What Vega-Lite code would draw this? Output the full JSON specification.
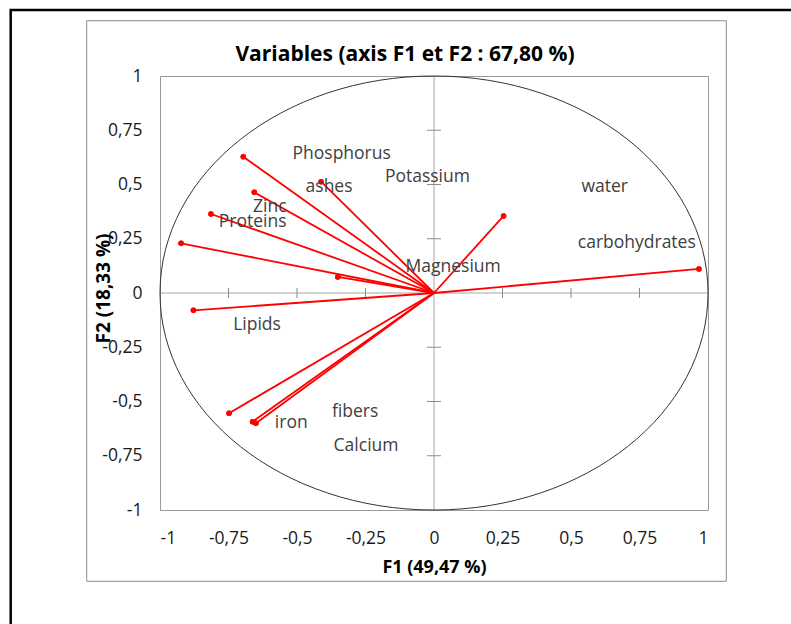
{
  "$schema": "https://vega.github.io/schema/vega-lite/v6.json",
  "usermeta": {"embedOptions": {"actions": false}},
  "width": 548,
  "height": 434,
  "autosize": {"type": "none"},
  "padding": {"left": 160, "top": 76, "right": 83, "bottom": 114},
  "background": "white",
  "title": {
    "text": "Variables (axis F1 et F2 : 67,80 %)",
    "anchor": "middle",
    "frame": "group",
    "dx": -29,
    "offset": -73,
    "baseline": "alphabetic",
    "font": "Open Sans",
    "fontSize": 21,
    "fontWeight": "bold",
    "color": "#000000"
  },
  "datasets": {
    "vars": [
      {"variable": "Phosphorus", "F1": -0.696, "F2": 0.628, "lx": -0.337, "ly": 0.641},
      {"variable": "ashes", "F1": -0.412, "F2": 0.513, "lx": -0.383, "ly": 0.487},
      {"variable": "Zinc", "F1": -0.656, "F2": 0.464, "lx": -0.599, "ly": 0.398},
      {"variable": "Proteins", "F1": -0.814, "F2": 0.364, "lx": -0.662, "ly": 0.329},
      {"variable": "Potassium", "F1": -0.923, "F2": 0.229, "lx": -0.024, "ly": 0.536},
      {"variable": "Magnesium", "F1": -0.351, "F2": 0.074, "lx": 0.07, "ly": 0.121},
      {"variable": "Lipids", "F1": -0.878, "F2": -0.08, "lx": -0.646, "ly": -0.147},
      {"variable": "fibers", "F1": -0.748, "F2": -0.554, "lx": -0.288, "ly": -0.547},
      {"variable": "iron", "F1": -0.662, "F2": -0.593, "lx": -0.521, "ly": -0.6},
      {"variable": "Calcium", "F1": -0.65, "F2": -0.6, "lx": -0.248, "ly": -0.704},
      {"variable": "water", "F1": 0.254, "F2": 0.355, "lx": 0.623, "ly": 0.487},
      {"variable": "carbohydrates", "F1": 0.967, "F2": 0.111, "lx": 0.74, "ly": 0.229}
    ],
    "ticks": [
      {"v": -0.75}, {"v": -0.5}, {"v": -0.25}, {"v": 0.25}, {"v": 0.5}, {"v": 0.75}
    ],
    "one": [{}]
  },
  "layer": [
    {
      "data": {"name": "vars"},
      "mark": {"type": "point", "filled": true, "color": "#ff0000", "size": 30, "opacity": 1},
      "encoding": {
        "x": {
          "field": "F1", "type": "quantitative",
          "scale": {"domain": [-1, 1], "nice": false, "zero": false},
          "axis": {
            "title": "F1 (49,47 %)",
            "values": [-1, -0.75, -0.5, -0.25, 0, 0.25, 0.5, 0.75, 1],
            "format": ".2~f",
            "labelExpr": "replace(replace(datum.label, '.', ','), '\u2212', '-')",
            "labelBaseline": "middle",
            "labelPadding": 28,
            "titleY": 57,
            "titleBaseline": "middle",
            "titleFontSize": 18
          }
        },
        "y": {
          "field": "F2", "type": "quantitative",
          "scale": {"domain": [-1, 1], "nice": false, "zero": false},
          "axis": {
            "title": "F2 (18,33 %)",
            "values": [-1, -0.75, -0.5, -0.25, 0, 0.25, 0.5, 0.75, 1],
            "format": ".2~f",
            "labelExpr": "replace(replace(datum.label, '.', ','), '\u2212', '-')",
            "labelPadding": 18,
            "titleX": -56.5,
            "titleY": 212,
            "titleAlign": "center",
            "titleBaseline": "middle",
            "titleAngle": -90,
            "titleFontSize": 19
          }
        }
      }
    },
    {
      "data": {"name": "one"},
      "mark": {"type": "rect", "fill": "transparent", "stroke": "#000000", "strokeWidth": 2.5},
      "encoding": {
        "x": {"datum": -1.5449, "type": "quantitative"},
        "x2": {"datum": 1.34},
        "y": {"datum": 1.3041, "type": "quantitative"},
        "y2": {"datum": -1.56}
      }
    },
    {
      "data": {"name": "one"},
      "mark": {"type": "rect", "fill": "transparent", "stroke": "#8c8c8c", "strokeWidth": 1},
      "encoding": {
        "x": {"datum": -1.2675, "type": "quantitative"},
        "x2": {"datum": 1.0668},
        "y": {"datum": 1.2548, "type": "quantitative"},
        "y2": {"datum": -1.3286}
      }
    },
    {
      "data": {"name": "one"},
      "mark": {"type": "rule", "color": "#a6a6a6", "strokeWidth": 1},
      "encoding": {
        "x": {"datum": -1, "type": "quantitative"},
        "x2": {"datum": 1},
        "y": {"datum": 0, "type": "quantitative"}
      }
    },
    {
      "data": {"name": "one"},
      "mark": {"type": "rule", "color": "#a6a6a6", "strokeWidth": 1},
      "encoding": {
        "x": {"datum": 0, "type": "quantitative"},
        "y": {"datum": -1, "type": "quantitative"},
        "y2": {"datum": 1}
      }
    },
    {
      "data": {"name": "ticks"},
      "mark": {"type": "tick", "orient": "vertical", "size": 10, "thickness": 1, "color": "#8c8c8c", "opacity": 1},
      "encoding": {
        "x": {"field": "v", "type": "quantitative"},
        "y": {"datum": 0, "type": "quantitative"}
      }
    },
    {
      "data": {"name": "ticks"},
      "mark": {"type": "tick", "orient": "horizontal", "size": 14, "thickness": 1, "color": "#8c8c8c", "opacity": 1},
      "encoding": {
        "y": {"field": "v", "type": "quantitative"},
        "x": {"datum": 0, "type": "quantitative"}
      }
    },
    {
      "data": {"name": "one"},
      "mark": {
        "type": "point",
        "shape": "M -1 0 C -1 -0.4374 -0.5523 -0.792 0 -0.792 C 0.5523 -0.792 1 -0.4374 1 0 C 1 0.4374 0.5523 0.792 0 0.792 C -0.5523 0.792 -1 0.4374 -1 0 Z",
        "filled": false,
        "stroke": "#333333",
        "strokeWidth": 1,
        "opacity": 1,
        "size": 300304
      },
      "encoding": {
        "x": {"datum": 0, "type": "quantitative"},
        "y": {"datum": 0, "type": "quantitative"}
      }
    },
    {
      "data": {"name": "vars"},
      "mark": {"type": "rule", "color": "#ff0000", "strokeWidth": 1.8},
      "encoding": {
        "x": {"field": "F1", "type": "quantitative"},
        "y": {"field": "F2", "type": "quantitative"},
        "x2": {"datum": 0},
        "y2": {"datum": 0}
      }
    },
    {
      "data": {"name": "vars"},
      "mark": {"type": "point", "filled": true, "color": "#ff0000", "size": 30, "opacity": 1},
      "encoding": {
        "x": {"field": "F1", "type": "quantitative"},
        "y": {"field": "F2", "type": "quantitative"}
      }
    },
    {
      "data": {"name": "vars"},
      "mark": {"type": "text", "font": "Open Sans", "fontSize": 17.5, "color": "#404040", "align": "center", "baseline": "middle"},
      "encoding": {
        "x": {"field": "lx", "type": "quantitative"},
        "y": {"field": "ly", "type": "quantitative"},
        "text": {"field": "variable"}
      }
    }
  ],
  "config": {
    "locale": {
      "number": {"decimal": ",", "thousands": " ", "grouping": [3], "currency": ["", " €"], "minus": "-"}
    },
    "view": {"stroke": "#999999", "strokeWidth": 1},
    "axis": {
      "grid": false,
      "domain": false,
      "ticks": false,
      "tickSize": 0,
      "labelFont": "Open Sans",
      "labelFontSize": 17.5,
      "labelColor": "#1a1a1a",
      "titleFont": "Open Sans",
      "titleFontWeight": "bold",
      "titleColor": "#000000"
    }
  }
}
